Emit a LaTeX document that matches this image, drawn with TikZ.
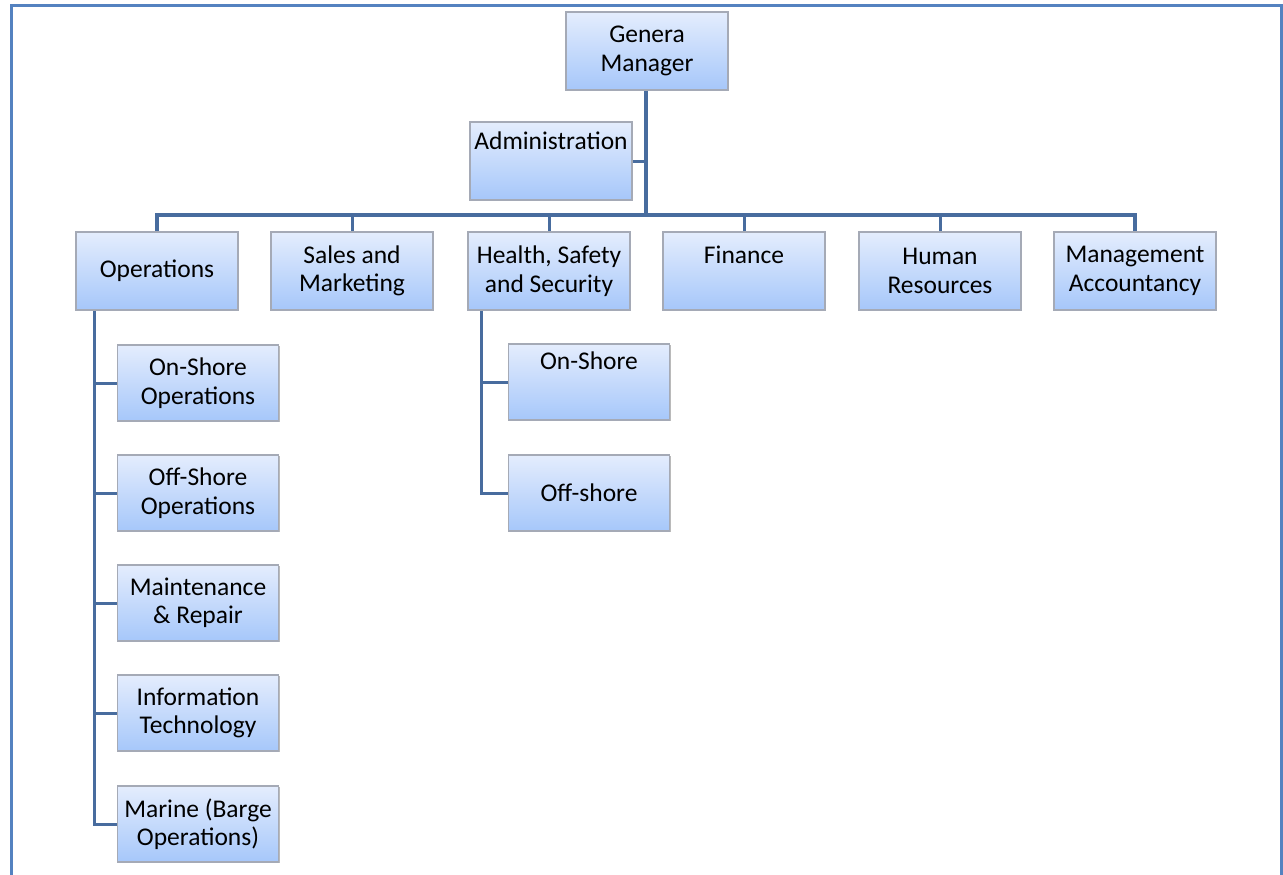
\documentclass[tikz,border=0pt]{standalone}
\usepackage{fontspec}
\setmainfont{Carlito}
\usetikzlibrary{positioning, shadows}
\definecolor{boxtop}{RGB}{228,237,253}
\definecolor{boxbot}{RGB}{166,199,250}
\definecolor{boxline}{RGB}{165,170,182}
\definecolor{linkcol}{RGB}{72,108,158}
\definecolor{framecol}{RGB}{84,130,192}

\begin{document}
\begin{tikzpicture}[x=1pt, y=-1pt, box/.style={draw=boxline, line width=1.6pt, top color=boxtop, bottom color=boxbot, align=center, minimum width=162pt, minimum height=78pt, inner sep=1pt, font=\fontsize{25.5}{28.5}\selectfont, drop shadow={shadow xshift=1.2pt, shadow yshift=-1.2pt, fill=black!45, opacity=0.6}}, sub/.style={box, minimum width=161pt, minimum height=76pt}, link/.style={draw=linkcol, line width=3pt}, trunk/.style={link, line width=4pt}]
\useasboundingbox (0,0) rectangle (1283,875);
\draw[framecol, line width=3pt] (11,877) -- (11,5.5) -- (1281.5,5.5) -- (1281.5,877);
\node[box] (gm) at (647,51) {Genera\\Manager};
\node[box] (adm) at (551,161) {Administration\\[12pt]\mbox{}};
\node[box] (ops) at (157,271) {Operations};
\node[box] (sales) at (352,271) {Sales and\\Marketing};
\node[box] (hss) at (549,271) {Health, Safety\\and Security};
\node[box] (fin) at (744,271) {Finance\\[4pt]\mbox{}};
\node[box] (hr) at (940,271) {Human\\Resources};
\node[box] (ma) at (1135,271) {Management\\Accountancy};
\node[sub] (onsops) at (198,383) {On-Shore\\Operations};
\node[sub] (offsops) at (198,493) {Off-Shore\\Operations};
\node[sub] (maint) at (198,603) {Maintenance\\\& Repair};
\node[sub] (infotech) at (198,713) {Information\\Technology};
\node[sub] (marine) at (198,824) {Marine (Barge\\Operations)};
\node[sub] (onshss) at (589,382) {On-Shore\\[14pt]\mbox{}};
\node[sub] (offshss) at (589,493) {Off-shore};
\coordinate (bus) at (646,215);
\coordinate (opsrail) at ([xshift=19pt]ops.south west);
\coordinate (hssrail) at ([xshift=14pt]hss.south west);
\draw[trunk] (gm.south -| bus) -- (bus);
\draw[link] (adm.east) -- (adm.east -| bus);
\draw[trunk] (ops.north) |- (bus) -| (ma.north);
\foreach \n in {sales,hss,fin,hr}
  \draw[link] (\n.north) -- (\n.north |- bus);
\draw[link] (opsrail) |- (marine.west);
\foreach \n in {onsops,offsops,maint,infotech}
  \draw[link] (\n.west) -- (\n.west -| opsrail);
\draw[link] (hssrail) |- (offshss.west);
\draw[link] (onshss.west) -- (onshss.west -| hssrail);
\end{tikzpicture}
\end{document}
